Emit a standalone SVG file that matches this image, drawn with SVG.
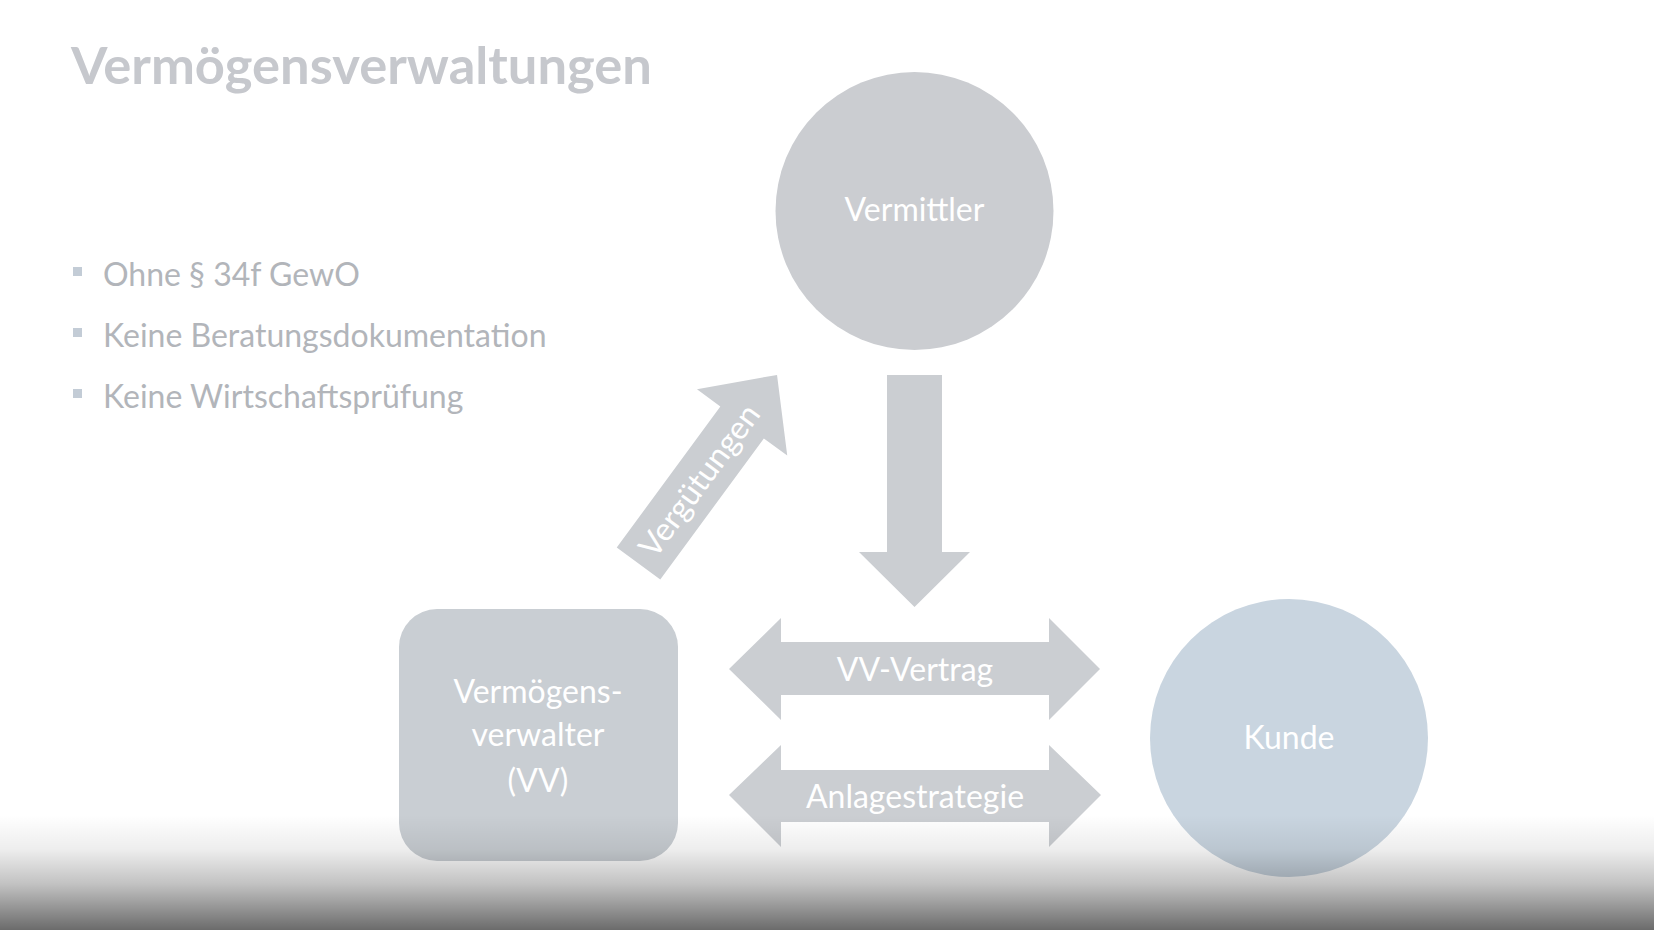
<svg xmlns="http://www.w3.org/2000/svg" width="1654" height="930" viewBox="0 0 1654 930">
<defs>
<style>
.t{font-family:Lato,"Liberation Sans",sans-serif;}
.title{font-weight:bold;font-size:52.5px;fill:#c6c8cd;}
.bul{font-size:32px;fill:#b2b5ba;}
.lbl{font-size:32px;fill:#ffffff;text-anchor:middle;}
.shape{fill:#cbced2;}
</style>
<linearGradient id="shade" x1="0" y1="0" x2="0" y2="1">
<stop offset="0" stop-color="#000" stop-opacity="0"/>
<stop offset="0.3" stop-color="#000" stop-opacity="0.07"/>
<stop offset="0.6" stop-color="#000" stop-opacity="0.24"/>
<stop offset="1" stop-color="#000" stop-opacity="0.58"/>
</linearGradient>
</defs>
<rect width="1654" height="930" fill="#ffffff"/>
<text class="t title" x="71" y="84">Vermögensverwaltungen</text>
<g id="bullets">
<rect x="73" y="267" width="9" height="9" fill="#c3ccd6"/>
<text class="t bul" x="103" y="286">Ohne § 34f GewO</text>
<rect x="73" y="328" width="9" height="9" fill="#c3ccd6"/>
<text class="t bul" x="103" y="347">Keine Beratungsdokumentation</text>
<rect x="73" y="389" width="9" height="9" fill="#c3ccd6"/>
<text class="t bul" x="103" y="408">Keine Wirtschaftsprüfung</text>
</g>
<g id="connectors">
<g id="verguetungen">
<g transform="translate(638.5,563.5) rotate(-53.7)">
<polygon class="shape" points="0,-27 175,-27 175,-56 234,0 175,56 175,27 0,27"/>
<text class="t lbl" x="103" y="11">Vergütungen</text>
</g>
</g>
<polygon id="down" class="shape" points="887,375 942,375 942,552 970,552 914.5,607 859,552 887,552"/>
<g id="vvvertrag">
<polygon class="shape" points="729,669 781,618 781,642 1049,642 1049,618 1100,669 1049,720 1049,695 781,695 781,720"/>
<text class="t lbl" x="915" y="681">VV-Vertrag</text>
</g>
<g id="anlage">
<polygon class="shape" points="729,795 781,745 781,770 1049,770 1049,745 1101,795 1049,847 1049,822 781,822 781,847"/>
<text class="t lbl" x="915" y="808">Anlagestrategie</text>
</g>
</g>
<g id="vermittler">
<circle cx="914.5" cy="211" r="139" fill="#cbcdd1"/>
<text class="t lbl" x="914.5" y="221">Vermittler</text>
</g>
<g id="vv">
<rect x="399" y="609" width="279" height="252" rx="38" fill="#c9ced3"/>
<text class="t lbl" x="538" y="703">Vermögens-</text>
<text class="t lbl" x="538" y="746">verwalter</text>
<text class="t lbl" x="538" y="792">(VV)</text>
</g>
<g id="kunde">
<circle cx="1289" cy="738" r="139" fill="#c9d5e0"/>
<text class="t lbl" x="1289" y="749">Kunde</text>
</g>
<rect x="0" y="815" width="1654" height="115" fill="url(#shade)"/>
</svg>
